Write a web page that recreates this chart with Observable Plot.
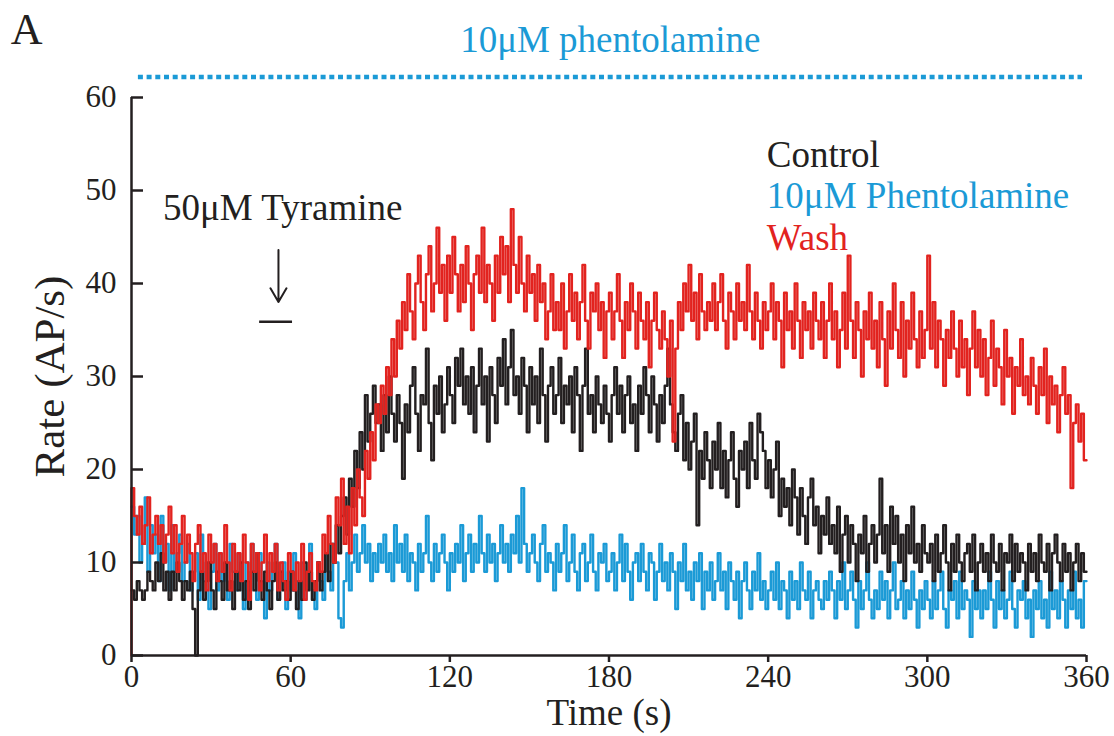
<!DOCTYPE html>
<html>
<head>
<meta charset="utf-8">
<script src="https://cdn.jsdelivr.net/npm/d3@7"></script>
<script src="https://cdn.jsdelivr.net/npm/@observablehq/plot@0.6"></script>
<style>
  html, body { margin: 0; padding: 0; background: #fff; }
  #chart svg { display: block; }
  #chart svg text { font-family: "Liberation Serif", "Times New Roman", serif; }
</style>
</head>
<body>
<div id="chart"></div>
<script>
// Firing rate (AP/s) in 1-s bins, t = 0..359 s
const control = [
  7,6,8,7,6,7,9,8,7,10,8,11,7,9,6,9,7,10,8,6,
  8,7,9,5,0,7,9,6,8,10,7,5,9,8,6,10,7,8,5,9,
  7,10,6,8,5,9,7,11,8,6,9,7,5,8,10,6,9,7,8,6,
  9,7,5,8,6,10,7,9,6,8,10,7,9,11,8,12,10,14,11,15,
  17,13,19,16,22,18,24,20,28,23,26,29,25,27,22,28,24,30,26,23,
  28,25,19,27,24,29,31,26,22,28,27,33,25,21,29,26,30,24,27,31,
  28,25,32,29,33,27,30,26,31,24,29,33,27,30,23,31,28,25,32,29,
  34,27,31,35,28,30,26,32,29,24,31,27,30,25,33,28,23,29,31,26,
  28,32,25,29,27,30,24,31,28,22,29,33,26,28,24,30,27,25,29,26,
  23,28,31,26,29,24,28,30,25,27,22,29,26,31,28,24,30,27,23,28,
  25,29,33,27,24,22,26,28,21,25,20,23,26,14,22,19,24,21,18,23,
  20,25,18,22,17,21,24,19,16,22,20,23,18,25,21,19,26,24,22,18,
  21,17,20,23,15,19,16,18,14,20,17,13,18,15,12,17,19,14,16,11,
  15,13,17,12,14,11,16,9,13,15,10,14,12,8,13,11,15,9,12,14,
  10,13,19,11,14,9,16,12,15,10,13,8,14,11,16,10,12,9,14,11,
  10,12,8,13,9,11,14,10,7,12,9,13,10,8,11,12,9,13,7,10,
  12,9,11,8,13,10,9,12,7,11,10,13,8,12,9,11,10,7,12,9,
  11,8,13,10,9,12,7,11,13,10,8,12,9,11,7,10,12,8,11,9
];
const phentolamine = [
  16,13,15,10,12,17,9,14,11,13,8,15,10,12,7,14,9,11,13,8,
  10,12,7,9,11,6,13,8,10,5,9,12,7,11,8,10,6,12,9,7,
  11,8,5,10,7,12,9,6,11,8,4,10,7,9,12,6,8,10,5,9,
  7,11,8,4,10,6,9,12,7,5,10,8,6,11,9,7,12,10,4,3,
  8,11,7,10,13,9,11,14,10,12,8,11,9,12,10,13,9,11,8,14,
  10,12,9,13,8,11,10,7,12,9,11,15,10,8,12,9,11,13,10,7,
  11,9,12,10,14,8,11,13,9,12,10,15,11,9,13,10,12,8,11,14,
  10,12,9,13,11,15,10,18,12,9,11,13,10,8,12,14,9,11,10,7,
  12,9,11,14,8,10,13,9,7,11,12,8,10,13,9,7,11,10,12,8,
  9,11,7,10,13,8,12,9,6,10,11,8,12,9,7,11,10,6,9,12,
  8,10,7,11,9,5,10,8,12,7,9,6,10,8,11,5,9,7,10,6,
  8,11,7,9,5,10,8,6,9,4,8,10,7,5,9,7,11,6,8,5,
  7,9,6,10,5,8,7,4,9,6,8,5,10,7,6,9,4,7,8,6,
  5,8,6,9,7,4,8,6,10,5,7,9,6,3,8,5,7,10,6,4,
  7,5,9,6,8,4,7,10,5,6,8,4,7,5,9,6,3,7,5,8,
  6,4,8,5,7,9,5,3,7,6,8,4,9,5,7,6,2,8,5,7,
  4,7,5,9,6,3,8,5,7,4,6,9,5,3,7,6,8,4,6,2,
  7,5,8,4,6,3,9,5,7,4,8,6,3,7,5,9,4,6,3,8
];
const wash = [
  18,15,13,16,12,14,17,11,13,15,12,14,10,13,16,11,14,9,12,15,
  10,13,11,8,12,14,9,11,7,13,10,12,8,11,9,14,10,7,12,9,
  11,8,13,10,6,12,9,11,7,10,13,8,11,9,12,7,10,8,6,11,
  9,7,10,8,12,6,9,11,8,7,10,9,13,11,15,12,10,17,14,19,
  12,16,11,18,14,20,17,15,22,19,24,21,27,25,29,26,31,28,34,30,
  36,33,38,35,41,37,34,40,43,38,35,41,44,37,40,46,39,42,36,43,
  39,45,41,37,42,38,44,40,35,41,43,39,46,38,42,40,36,43,39,45,
  41,44,38,48,42,39,45,40,37,43,39,41,36,42,38,40,34,37,41,35,
  38,35,40,33,37,41,36,39,34,38,42,36,33,39,37,40,35,38,32,37,
  39,34,37,41,36,32,38,35,40,37,33,39,36,34,38,31,36,39,35,33,
  37,34,30,36,23,33,38,35,40,37,42,36,39,34,41,37,35,38,36,40,
  35,38,41,36,33,39,37,34,40,36,38,35,42,37,34,39,36,33,38,35,
  37,40,34,38,36,31,39,35,37,33,40,36,32,38,35,37,33,39,36,34,
  38,32,36,40,34,37,31,35,39,33,43,36,32,38,35,30,37,34,39,33,
  36,31,38,34,29,37,33,40,35,32,38,30,36,33,39,34,31,37,32,35,
  43,33,38,31,36,34,29,35,32,37,33,30,36,31,34,28,33,37,31,35,
  30,34,28,32,36,29,33,31,27,35,30,32,26,31,29,34,28,30,27,32,
  29,26,31,28,33,25,30,27,29,24,28,31,26,28,18,25,27,23,26,21
];
const seriesNames = ["Control", "10\u03bcM Phentolamine", "Wash"];
const seriesColors = ["#231f20", "#1b9ad6", "#e2231f"];
const xTicks = [0, 60, 120, 180, 240, 300, 360];
const yTicks = [0, 10, 20, 30, 40, 50, 60];
const drugLabel = "10\u03bcM phentolamine";
const tyramineLabel = "50\u03bcM Tyramine";
const panelLabel = "A";
const xLabel = "Time (s)";
const yLabel = "Rate (AP/s)";

const BIN = 1;
function steps(values, startFromZero) {
  const rows = [];
  if (startFromZero) rows.push({t: 0, v: 0});
  values.forEach((v, i) => rows.push({t: i * BIN, v}));
  rows.push({t: values.length * BIN, v: values[values.length - 1]});
  return rows;
}

const font = "Liberation Serif";
const ink = "#231f20";
const blue = seriesColors[1];

const chart = Plot.plot({
  width: 1114,
  height: 736,
  marginLeft: 131,
  marginRight: 28,
  marginTop: 97,
  marginBottom: 81,
  style: {fontFamily: "'Liberation Serif', serif", background: "#fff", color: ink},
  x: {domain: [0, 360], label: null},
  y: {domain: [0, 60], label: null},
  marks: [
    // data traces
    Plot.line(steps(phentolamine), {x: "t", y: "v", curve: "step-after", stroke: seriesColors[1], strokeWidth: 2.4}),
    Plot.line(steps(control), {x: "t", y: "v", curve: "step-after", stroke: seriesColors[0], strokeWidth: 2.4}),
    Plot.line(steps(wash, true), {x: "t", y: "v", curve: "step-after", stroke: seriesColors[2], strokeWidth: 2.4}),
    // axes
    Plot.ruleX([0], {stroke: ink, strokeWidth: 2.5}),
    Plot.ruleY([0], {stroke: ink, strokeWidth: 2.5}),
    Plot.axisY({ticks: yTicks, tickSize: -12, strokeWidth: 2.5, text: null}),
    Plot.axisY({ticks: yTicks, tickSize: 0, tickPadding: 15, fontSize: 31, fontFamily: font, fill: ink}),
    Plot.axisX({ticks: xTicks, tickSize: 7, tickPadding: 2, strokeWidth: 2.5, fontSize: 31, fontFamily: font, fill: ink}),
    Plot.text([xLabel], {frameAnchor: "bottom", lineAnchor: "middle", dy: 58, text: d => d, fontSize: 37, fontFamily: font, fill: ink}),
    Plot.text([yLabel], {frameAnchor: "left", textAnchor: "middle", lineAnchor: "middle", dx: -81, rotate: -90, text: d => d, fontSize: 43, fontFamily: font, fill: ink}),
    // top annotation
    Plot.text([panelLabel], {x: -39.5, y: 67.3, text: d => d, fontSize: 44, fontFamily: font, fill: ink}),
    Plot.text([drugLabel], {x: 180.5, y: 66.2, text: d => d, fontSize: 37, fontFamily: font, fill: blue}),
    Plot.ruleY([62.2], {x1: 2.6, x2: 358.5, stroke: blue, strokeWidth: 4.5, strokeDasharray: "5,3.7"}),
    // tyramine annotation
    Plot.text([tyramineLabel], {x: 57, y: 48.1, text: d => d, fontSize: 37, fontFamily: font, fill: ink}),
    Plot.arrow([{x: 55.4, y1: 43.6, y2: 38.0}], {x1: "x", x2: "x", y1: "y1", y2: "y2", stroke: ink, strokeWidth: 2, headLength: 12}),
    Plot.ruleY([35.9], {x1: 48.3, x2: 60.7, stroke: ink, strokeWidth: 2.5}),
    // legend
    Plot.text(seriesNames, {x: 239.5, y: (d, i) => [53.8, 49.4, 44.9][i], text: d => d, textAnchor: "start", fontSize: 37, fontFamily: font, fill: (d, i) => seriesColors[i]})
  ]
});
document.getElementById("chart").appendChild(chart);
</script>
</body>
</html>
